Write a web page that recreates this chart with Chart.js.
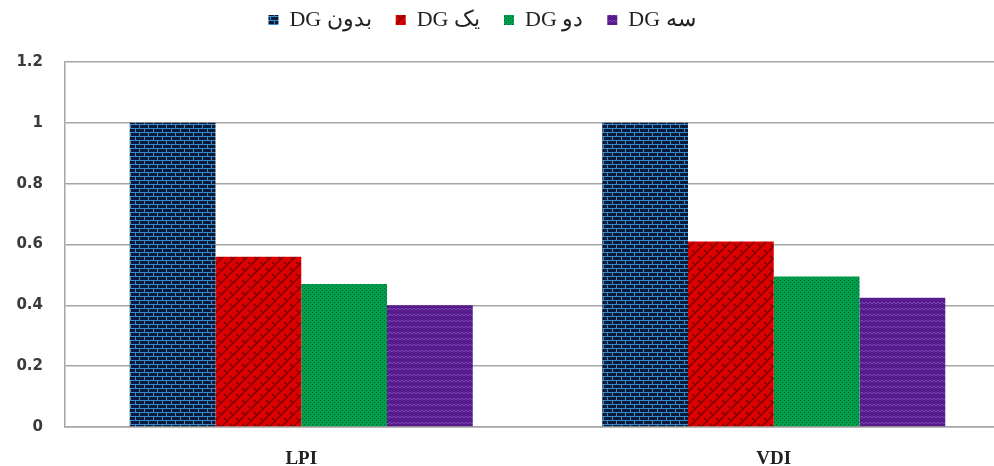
<!DOCTYPE html>
<html>
<head>
<meta charset="utf-8">
<script src="https://cdn.jsdelivr.net/npm/chart.js@4"></script>
<style>
  html, body { margin: 0; padding: 0; background: #fff; overflow: hidden; }
  #wrap { width: 994px; height: 466px; overflow: hidden; }
</style>
</head>
<body>
<!-- el area del grafico sigue un poco mas alla del borde derecho, como en el original -->
<div id="wrap"><canvas id="myChart" width="1010" height="466"></canvas></div>
<script>
// datos del grafico
const categorias = ["LPI", "VDI"];
const seriesNombres = ["DG بدون", "DG یک", "DG دو", "DG سه"];
const sinDG = [1, 1];
const unDG = [0.56, 0.61];
const dosDG = [0.47, 0.495];
const tresDG = [0.40, 0.425];
const ticksY = [0, 0.2, 0.4, 0.6, 0.8, 1, 1.2];

// patrones de relleno (ladrillos, puntos, zigzag)
function patron(w, h, dibujar) {
  const c = document.createElement("canvas");
  c.width = w; c.height = h;
  const g = c.getContext("2d");
  dibujar(g);
  return document.getElementById("myChart").getContext("2d").createPattern(c, "repeat");
}

const azul = patron(18, 8, (g) => {
  g.fillStyle = "#0b1a36"; g.fillRect(0, 0, 18, 8);
  g.fillStyle = "#3a8ad0";
  g.fillRect(0, 0, 18, 1); g.fillRect(0, 4, 18, 1);
  g.fillRect(0, 0, 1, 4); g.fillRect(9, 0, 1, 4);
  g.fillRect(4, 4, 1, 4); g.fillRect(13, 4, 1, 4);
});

const rojo = patron(12, 12, (g) => {
  g.fillStyle = "#dc0000"; g.fillRect(0, 0, 12, 12);
  g.strokeStyle = "#760000"; g.lineWidth = 1.4;
  g.beginPath();
  g.moveTo(0, 12); g.lineTo(12, 0);
  g.moveTo(-6, 6); g.lineTo(6, -6);
  g.moveTo(6, 18); g.lineTo(18, 6);
  g.moveTo(2, 4); g.lineTo(5, 7);
  g.moveTo(8, 10); g.lineTo(11, 13);
  g.stroke();
});

const verde = patron(4, 4, (g) => {
  g.fillStyle = "#00a04c"; g.fillRect(0, 0, 4, 4);
  g.fillStyle = "#05592c";
  g.fillRect(0, 0, 1, 1); g.fillRect(2, 2, 1, 1);
});

const morado = patron(8, 6, (g) => {
  g.fillStyle = "#561c8c"; g.fillRect(0, 0, 8, 6);
  g.strokeStyle = "#7d45b8"; g.lineWidth = 1;
  g.beginPath();
  g.moveTo(0, 4); g.lineTo(2, 2); g.lineTo(4, 4); g.lineTo(6, 2); g.lineTo(8, 4);
  g.stroke();
});

const data = {
  labels: categorias,
  datasets: [
    { label: seriesNombres[0], data: sinDG, backgroundColor: azul },
    { label: seriesNombres[1], data: unDG, backgroundColor: rojo },
    { label: seriesNombres[2], data: dosDG, backgroundColor: verde },
    { label: seriesNombres[3], data: tresDG, backgroundColor: morado },
  ],
};

// alto fijo de la leyenda y la muevo un poco arriba / izquierda
const leyendaFija = {
  id: "leyendaFija",
  beforeInit(chart) {
    const fitOrig = chart.legend.fit;
    chart.legend.fit = function () {
      fitOrig.bind(chart.legend)();
      this.height = 56;
    };
  },
  afterLayout(chart) {
    const l = chart.legend;
    l.left -= 23; l.right -= 23;
    l.top -= 21; l.bottom -= 21;
  },
};

const config = {
  type: "bar",
  data,
  plugins: [leyendaFija],
  options: {
    responsive: false,
    animation: false,
    layout: { padding: { left: 0, right: 0, top: 6, bottom: 0 } },
    datasets: { bar: { categoryPercentage: 0.726, barPercentage: 1 } },
    plugins: {
      tooltip: { enabled: false },
      legend: {
        position: "top",
        labels: {
          boxWidth: 10,
          boxHeight: 10,
          padding: 24,
          color: "#222",
          font: { family: "Liberation Serif", size: 22 },
        },
      },
    },
    scales: {
      x: {
        afterFit: (s) => { s.height = 39; },
        grid: { display: false },
        border: { color: "#a6a6a6", width: 1.5 },
        ticks: {
          padding: 13,
          color: "#222",
          font: { family: "Liberation Serif", size: 19, weight: "bold" },
        },
      },
      y: {
        min: 0,
        max: 1.2,
        afterFit: (s) => { s.width = 65; },
        afterBuildTicks: (s) => { s.ticks = ticksY.map((v) => ({ value: v })); },
        grid: { color: "#a6a6a6", lineWidth: 1.5, drawTicks: false },
        border: { color: "#a6a6a6", width: 1.5 },
        ticks: {
          padding: 22,
          color: "#3a3a3a",
          font: { family: "DejaVu Sans", size: 15, weight: "bold" },
          callback: (v) => String(v),
        },
      },
    },
  },
};

const myChart = new Chart(document.getElementById("myChart"), config);
</script>
</body>
</html>
